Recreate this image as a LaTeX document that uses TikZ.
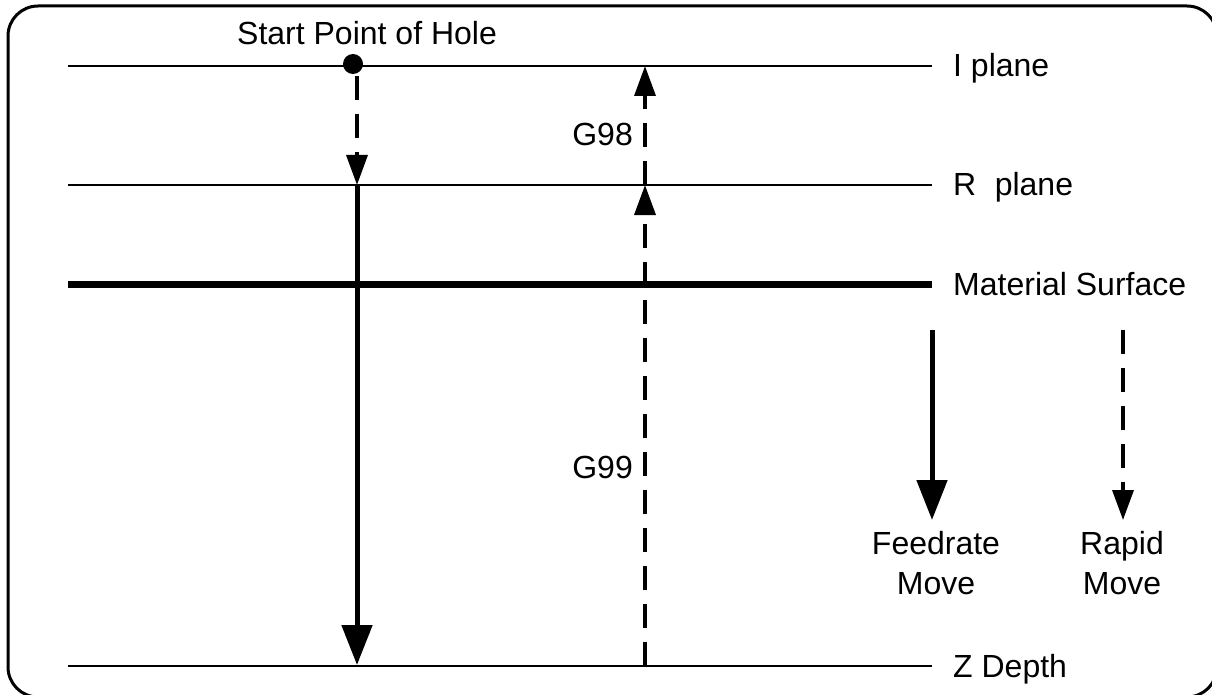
\documentclass[tikz,border=0pt]{standalone}
\usepackage{fontspec}
\setmainfont{Liberation Sans}
\usetikzlibrary{arrows.meta}
\begin{document}
\begin{tikzpicture}[x=1pt,y=-1pt,
  lbl/.style={inner sep=0pt,font=\fontsize{32}{40}\selectfont},
  planeline/.style={line width=2.5pt},
  surfline/.style={line width=7pt},
  feed/.style={line width=5pt,-{Triangle[length=40pt,width=30pt]}},
  rapid/.style={line width=3.5pt,dash pattern=on 24pt off 14pt,-{Triangle[length=30pt,width=21pt]}},
  frame/.style={line width=3pt,rounded corners=30pt}]
\useasboundingbox (0,0) rectangle (1212,695);
\clip (0,0) rectangle (1212,695);
\draw[frame] (8,6) rectangle (1217,697);
% planes
\coordinate (Il) at (68,66);  \coordinate (Ir) at (932,66);
\coordinate (Rl) at (68,185); \coordinate (Rr) at (932,185);
\coordinate (Ml) at (68,284); \coordinate (Mr) at (932,284);
\coordinate (Zl) at (68,666); \coordinate (Zr) at (932,666);
\draw[planeline] (Il) -- (Ir);
\draw[planeline] (Rl) -- (Rr);
\draw[surfline] (Ml) -- (Mr);
\draw[planeline] (Zl) -- (Zr);
% labels of planes
\node[lbl,anchor=base west] (iplane) at (953,77) {I plane};
\node[lbl,anchor=base west] (rplane) at (953,196) {R\hspace{0.3em} plane};
\node[lbl,anchor=base west] (msurf) at (953,295) {Material Surface};
\node[lbl,anchor=base west] (zdepth) at (953,677) {Z Depth};
% start point
\node[lbl,anchor=base west] (startlbl) at (237,45) {Start Point of Hole};
\node[circle,fill,inner sep=0pt,minimum size=20pt] (start) at (353,64) {};
\coordinate (rapidtop) at (357,76);
\coordinate (rhit) at (357,185);
\coordinate (zhit) at (357,665);
\draw[rapid] (rapidtop) -- (rhit);
\draw[feed] (rhit) -- (zhit);
% retract
\coordinate (retz) at (645,666);
\coordinate (retr) at (645,185);
\coordinate (reti) at (645,66);
\draw[rapid] (retz) -- (retr);
\draw[rapid] (retr) -- (reti);
\node[lbl,anchor=base east] (g98) at (633,146) {G98};
\node[lbl,anchor=base east] (g99) at (633,478) {G99};
% legend
\coordinate (fa) at (932,330); \coordinate (fb) at (932,520);
\coordinate (ra) at (1123,330); \coordinate (rb) at (1123,520);
\draw[feed] (fa) -- (fb);
\draw[rapid] (ra) -- (rb);
\node[lbl,align=center,anchor=north] (feedlbl) at (936,531) {Feedrate\\Move};
\node[lbl,align=center,anchor=north] (rapidlbl) at (1122,531) {Rapid\\Move};
\end{tikzpicture}
\end{document}
